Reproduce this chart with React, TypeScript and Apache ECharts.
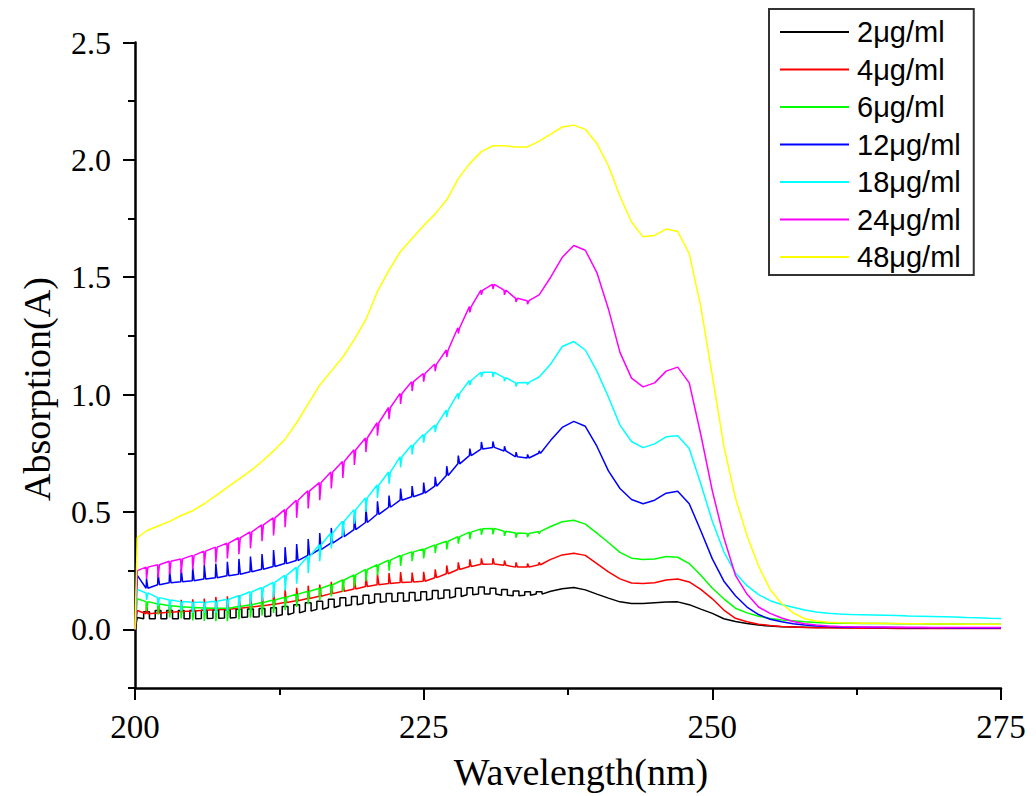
import React, { useEffect, useRef } from "react";
import * as echarts from "echarts";

const wavelengths = [
  200, 200.2, 201, 202, 203, 204, 205, 206, 207, 208, 209, 210, 211, 212, 213, 214, 215, 216, 217, 218, 219,
  220, 221, 222, 223, 224, 225, 226, 227, 228, 229, 230, 231, 232, 233, 234, 235, 236, 237, 238, 239,
  240, 241, 242, 243, 244, 245, 246, 247, 248, 249, 250, 251, 252, 253, 254, 255, 256, 257, 258, 259,
  260, 261, 262, 263, 264, 265, 266, 267, 268, 269, 270, 271, 272, 273, 274, 275,
];

const seriesNames = ["2μg/ml", "4μg/ml", "6μg/ml", "12μg/ml", "18μg/ml", "24μg/ml", "48μg/ml"];
const seriesColors = ["#000000", "#ff0000", "#00ff00", "#0000ff", "#00ffff", "#ff00ff", "#ffff00"];

const c2 = [
  0, 0.05, 0.045, 0.045, 0.045, 0.045, 0.045, 0.046, 0.047, 0.048, 0.05, 0.052, 0.054, 0.057, 0.062, 0.07, 0.078, 0.085, 0.093, 0.1, 0.105,
  0.11, 0.115, 0.118, 0.12, 0.122, 0.125, 0.13, 0.133, 0.14, 0.147, 0.15, 0.15, 0.145, 0.143, 0.145, 0.15, 0.162, 0.173, 0.178, 0.168,
  0.15, 0.133, 0.117, 0.11, 0.11, 0.113, 0.116, 0.117, 0.105, 0.086, 0.068, 0.045, 0.033, 0.025, 0.018, 0.014, 0.011, 0.01, 0.009, 0.008,
  0.008, 0.008, 0.007, 0.007, 0.007, 0.006, 0.006, 0.006, 0.006, 0.005, 0.005, 0.005, 0.005, 0.005, 0.005, 0.005,
];
const c4 = [
  0, 0.08, 0.066, 0.07, 0.073, 0.076, 0.078, 0.081, 0.083, 0.086, 0.09, 0.095, 0.1, 0.107, 0.114, 0.122, 0.131, 0.141, 0.152, 0.162, 0.172,
  0.182, 0.19, 0.195, 0.199, 0.202, 0.205, 0.22, 0.237, 0.255, 0.268, 0.277, 0.278, 0.273, 0.265, 0.265, 0.275, 0.298, 0.317, 0.324, 0.315,
  0.28, 0.245, 0.215, 0.197, 0.195, 0.198, 0.21, 0.214, 0.202, 0.17, 0.13, 0.082, 0.047, 0.032, 0.022, 0.016, 0.012, 0.01, 0.008, 0.007,
  0.007, 0.006, 0.006, 0.005, 0.005, 0.005, 0.004, 0.004, 0.004, 0.004, 0.003, 0.003, 0.003, 0.003, 0.003, 0.003,
];
const c6 = [
  0, 0.13, 0.118, 0.108, 0.1, 0.096, 0.093, 0.091, 0.09, 0.09, 0.097, 0.105, 0.114, 0.125, 0.137, 0.15, 0.162, 0.175, 0.19, 0.21, 0.232,
  0.255, 0.275, 0.295, 0.315, 0.33, 0.342, 0.36, 0.375, 0.395, 0.414, 0.428, 0.43, 0.418, 0.41, 0.408, 0.417, 0.438, 0.458, 0.465, 0.448,
  0.41, 0.37, 0.328, 0.303, 0.297, 0.3, 0.31, 0.307, 0.28, 0.23, 0.175, 0.13, 0.09, 0.07, 0.056, 0.046, 0.04, 0.036, 0.032, 0.029,
  0.027, 0.026, 0.026, 0.025, 0.025, 0.025, 0.024, 0.024, 0.024, 0.023, 0.023, 0.023, 0.022, 0.022, 0.022, 0.022,
];
const c12 = [
  0, 0.23, 0.175, 0.19, 0.198, 0.203, 0.207, 0.214, 0.22, 0.228, 0.235, 0.245, 0.256, 0.268, 0.28, 0.293, 0.315, 0.34, 0.367, 0.395, 0.425,
  0.455, 0.49, 0.52, 0.55, 0.565, 0.58, 0.61, 0.655, 0.705, 0.74, 0.768, 0.775, 0.76, 0.735, 0.73, 0.75, 0.805, 0.86, 0.886, 0.865,
  0.78, 0.675, 0.6, 0.553, 0.535, 0.55, 0.58, 0.588, 0.535, 0.42, 0.3, 0.205, 0.143, 0.095, 0.063, 0.043, 0.032, 0.024, 0.018, 0.014,
  0.012, 0.01, 0.009, 0.009, 0.008, 0.008, 0.008, 0.007, 0.007, 0.007, 0.007, 0.006, 0.006, 0.006, 0.006, 0.006,
];
const c18 = [
  0, 0.17, 0.155, 0.135, 0.125, 0.118, 0.115, 0.115, 0.12, 0.128, 0.143, 0.16, 0.178, 0.2, 0.23, 0.264, 0.31, 0.36, 0.41, 0.46, 0.51,
  0.56, 0.615, 0.67, 0.735, 0.785, 0.83, 0.87, 0.934, 1.005, 1.06, 1.095, 1.095, 1.072, 1.05, 1.052, 1.075, 1.13, 1.205, 1.226, 1.19,
  1.1, 0.99, 0.87, 0.8, 0.774, 0.79, 0.82, 0.825, 0.77, 0.62, 0.46, 0.33, 0.24, 0.186, 0.148, 0.122, 0.106, 0.094, 0.082, 0.074,
  0.068, 0.065, 0.063, 0.062, 0.061, 0.06, 0.059, 0.057, 0.056, 0.055, 0.054, 0.052, 0.05, 0.049, 0.047, 0.046,
];
const c24 = [
  0, 0.25, 0.265, 0.275, 0.29, 0.3, 0.315, 0.333, 0.35, 0.367, 0.39, 0.415, 0.445, 0.475, 0.51, 0.55, 0.59, 0.625, 0.67, 0.715, 0.765,
  0.815, 0.88, 0.945, 1.005, 1.055, 1.09, 1.13, 1.19, 1.285, 1.375, 1.445, 1.47, 1.445, 1.41, 1.4, 1.425, 1.5, 1.585, 1.635, 1.615,
  1.52, 1.365, 1.18, 1.07, 1.033, 1.05, 1.1, 1.117, 1.05, 0.83, 0.59, 0.39, 0.23, 0.15, 0.095, 0.068, 0.048, 0.033, 0.024, 0.018,
  0.014, 0.012, 0.011, 0.01, 0.01, 0.01, 0.009, 0.009, 0.009, 0.008, 0.008, 0.008, 0.008, 0.008, 0.008, 0.008,
];
const c48 = [
  0, 0.39, 0.42, 0.44, 0.46, 0.485, 0.505, 0.535, 0.57, 0.605, 0.64, 0.675, 0.715, 0.76, 0.81, 0.88, 0.96, 1.04, 1.1, 1.16, 1.235,
  1.32, 1.44, 1.53, 1.61, 1.665, 1.72, 1.77, 1.83, 1.92, 1.985, 2.035, 2.06, 2.06, 2.055, 2.055, 2.08, 2.11, 2.14, 2.148, 2.13,
  2.07, 1.975, 1.845, 1.735, 1.672, 1.678, 1.705, 1.695, 1.6, 1.375, 1.08, 0.78, 0.56, 0.4, 0.27, 0.17, 0.11, 0.07, 0.045, 0.035,
  0.03, 0.028, 0.027, 0.026, 0.026, 0.025, 0.025, 0.024, 0.024, 0.023, 0.023, 0.023, 0.022, 0.022, 0.022, 0.022,
];
const seriesValues = [c2, c4, c6, c12, c18, c24, c48];

// Scan artefacts (spikes), one per nm from 201 to 236 nm.
const spikeWavelengths = [
  201, 202, 203, 204, 205, 206, 207, 208, 209, 210, 211, 212, 213, 214, 215, 216, 217, 218,
  219, 220, 221, 222, 223, 224, 225, 226, 227, 228, 229, 230, 231, 232, 233, 234, 235, 236,
];
const s2 = [
  0.03, 0.035, 0.035, 0.035, 0.035, 0.035, 0.035, 0.035, 0.035, 0.035, 0.035, 0.035, 0.035, 0.035, 0.035, 0.035, 0.035, 0.035,
  0.035, 0.035, 0.035, 0.035, 0.035, 0.035, 0.035, 0.035, 0.035, 0.035, 0.03, 0.03, 0.025, 0.025, 0.02, 0.015, 0.01, 0,
];
const s4 = [
  0.04, 0.045, 0.045, 0.05, 0.05, 0.05, 0.055, 0.055, 0.055, 0.055, 0.055, 0.055, 0.055, 0.055, 0.055, 0.05, 0.05, 0.05,
  0.05, 0.05, 0.045, 0.045, 0.045, 0.04, 0.04, 0.035, 0.035, 0.03, 0.03, 0.025, 0.025, 0.02, 0.02, 0.015, 0.01, 0,
];
const s6 = [
  -0.04, -0.045, -0.05, -0.05, -0.055, -0.055, -0.055, -0.055, -0.055, -0.055, -0.055, -0.055, -0.055, -0.055, -0.055, -0.05, -0.05, -0.05,
  -0.05, -0.05, -0.045, -0.045, -0.045, -0.04, -0.04, -0.035, -0.035, -0.03, -0.03, -0.025, -0.025, -0.02, -0.02, -0.015, -0.01, 0,
];
const s12 = [
  0.04, 0.05, 0.05, 0.055, 0.055, 0.06, 0.06, 0.06, 0.065, 0.065, 0.065, 0.07, 0.07, 0.07, 0.07, 0.07, 0.065, 0.065,
  0.06, 0.06, 0.055, 0.05, 0.05, 0.045, 0.045, 0.04, 0.04, 0.035, 0.03, 0.03, 0.025, 0.02, 0.02, 0.015, 0.01, 0,
];
const s18 = [
  -0.03, -0.035, -0.04, -0.04, -0.045, -0.045, -0.05, -0.05, -0.055, -0.06, -0.06, -0.065, -0.065, -0.07, -0.07, -0.07, -0.065, -0.065,
  -0.06, -0.06, -0.055, -0.05, -0.045, -0.04, -0.035, -0.03, -0.03, -0.025, -0.02, -0.02, -0.02, -0.015, -0.015, -0.01, 0, 0,
];
const s24 = [
  -0.05, -0.055, -0.055, -0.06, -0.06, -0.06, -0.065, -0.065, -0.07, -0.07, -0.07, -0.075, -0.075, -0.075, -0.075, -0.075, -0.07, -0.07,
  -0.065, -0.06, -0.055, -0.05, -0.045, -0.04, -0.035, -0.03, -0.03, -0.025, -0.025, -0.02, -0.02, -0.02, -0.015, -0.015, 0, 0,
];
const s48 = spikeWavelengths.map(() => 0);
const seriesSpikes = [s2, s4, s6, s12, s18, s24, s48];
const squarePulse = [true, false, false, false, false, false, false];

const yMajorTicks = [0, 0.5, 1.0, 1.5, 2.0, 2.5];

function buildData(i: number): number[][] {
  const vals = seriesValues[i];
  const spikes = seriesSpikes[i];
  const out: number[][] = [];
  wavelengths.forEach((w, j) => {
    const v = vals[j];
    const k = spikeWavelengths.indexOf(w);
    const a = k >= 0 ? spikes[k] : 0;
    if (!a) {
      out.push([w, v]);
    } else if (squarePulse[i]) {
      out.push([w - 0.25, v], [w - 0.25, v + a], [w + 0.25, v + a], [w + 0.25, v]);
    } else {
      out.push([w - 0.04, v], [w, v + a], [w + 0.12, v]);
    }
  });
  return out;
}

export default function App() {
  const ref = useRef<HTMLDivElement>(null);
  useEffect(() => {
    if (!ref.current) return;
    const chart = echarts.init(ref.current, undefined, { renderer: "svg" });
    const axisColor = "#000";
    const serif = "'Liberation Serif', 'Times New Roman', serif";
    chart.setOption({
      animation: false,
      backgroundColor: "#fff",
      grid: { left: 135, right: 35, top: 42.5, bottom: 108 },
      legend: {
        orient: "vertical",
        left: 769,
        top: 9,
        padding: [8, 13, 3, 11],
        icon: "rect",
        itemWidth: 69,
        itemHeight: 2,
        itemGap: 7.5,
        borderColor: "#333",
        borderWidth: 2,
        backgroundColor: "#fff",
        textStyle: { fontFamily: "'Liberation Sans', Arial, sans-serif", fontSize: 29, color: "#000", lineHeight: 30, padding: [0, 0, 0, 3] },
        data: seriesNames,
      },
      xAxis: {
        type: "value",
        min: 200,
        max: 275,
        interval: 25,
        axisLine: { show: true, onZero: false, lineStyle: { color: axisColor, width: 2.5 } },
        axisTick: { show: true, length: 12, lineStyle: { color: axisColor, width: 2 } },
        minorTick: { show: true, splitNumber: 2, length: 7, lineStyle: { color: axisColor, width: 2 } },
        axisLabel: { fontFamily: serif, fontSize: 33, color: "#000", margin: 22 },
        splitLine: { show: false },
      },
      yAxis: [
        {
          type: "value",
          min: -0.25,
          max: 2.5,
          interval: 0.25,
          axisLine: { show: true, onZero: false, lineStyle: { color: axisColor, width: 2.5 } },
          axisTick: { show: true, length: 7, lineStyle: { color: axisColor, width: 2 } },
          axisLabel: { show: false },
          splitLine: { show: false },
        },
        {
          type: "value",
          min: -0.25,
          max: 2.5,
          position: "left",
          axisLine: { show: false },
          axisTick: { show: true, length: 12, customValues: yMajorTicks, lineStyle: { color: axisColor, width: 2 } },
          axisLabel: {
            customValues: yMajorTicks,
            fontFamily: serif,
            fontSize: 32,
            color: "#000",
            margin: 24,
            formatter: (v: number) => v.toFixed(1),
          },
          splitLine: { show: false },
        },
      ],
      graphic: [
        {
          type: "text",
          x: 581,
          y: 772,
          style: {
            text: "Wavelength(nm)",
            font: "38px 'Liberation Serif', 'Times New Roman', serif",
            fill: "#000",
            textAlign: "center",
            textVerticalAlign: "middle",
          },
        },
        {
          type: "text",
          x: 37,
          y: 389,
          rotation: Math.PI / 2,
          style: {
            text: "Absorption(A)",
            font: "38px 'Liberation Serif', 'Times New Roman', serif",
            fill: "#000",
            textAlign: "center",
            textVerticalAlign: "middle",
          },
        },
      ],
      series: seriesNames.map((name, i) => ({
        name,
        type: "line",
        yAxisIndex: 0,
        symbol: "none",
        color: seriesColors[i],
        lineStyle: { width: 1.5, color: seriesColors[i] },
        data: buildData(i),
      })),
    });
    return () => chart.dispose();
  }, []);
  return <div ref={ref} style={{ position: "absolute", left: 0, top: 0, width: 1036, height: 796 }} />;
}
